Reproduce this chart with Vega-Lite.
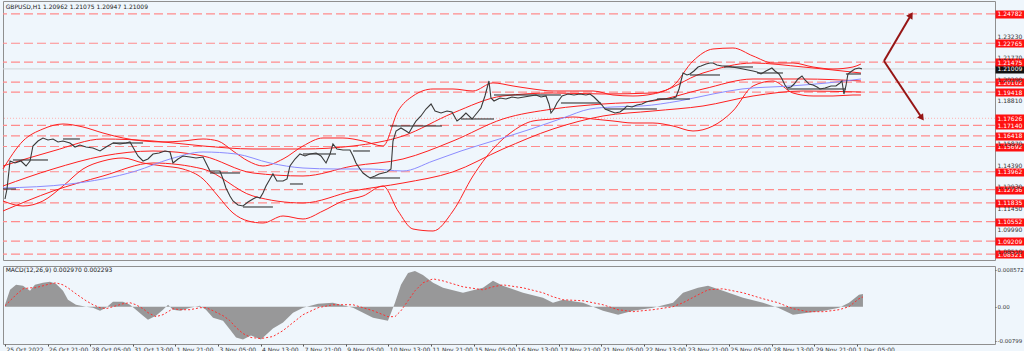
{
"$schema": "https://vega.github.io/schema/vega-lite/v6.json",
"background": "#eff6fc",
"padding": 0,
"spacing": 4,
"config": {"view": {"stroke": "#8f8f8f", "strokeWidth": 1}, "font": "DejaVu Sans", "axis": {"labelFont": "DejaVu Sans", "labelFontSize": 6, "labelColor": "#333333", "domain": false, "grid": false}},
"datasets": {
"price": [{"bar":0,"close":1.12097},{"bar":1.5,"close":1.12782},{"bar":3.8,"close":1.147},{"bar":7.5,"close":1.14563},{"bar":12.0,"close":1.147},{"bar":15.8,"close":1.14358},{"bar":18.8,"close":1.147},{"bar":21.0,"close":1.15728},{"bar":24.8,"close":1.1607},{"bar":28.5,"close":1.16276},{"bar":32.3,"close":1.16139},{"bar":36.1,"close":1.16207},{"bar":39.8,"close":1.16002},{"bar":43.6,"close":1.1607},{"bar":48.8,"close":1.15933},{"bar":52.6,"close":1.15659},{"bar":56.3,"close":1.15796},{"bar":60.9,"close":1.15659},{"bar":66.1,"close":1.1559},{"bar":71.4,"close":1.15385},{"bar":75.9,"close":1.15659},{"bar":81.1,"close":1.15933},{"bar":86.4,"close":1.15865},{"bar":90.9,"close":1.15933},{"bar":93.9,"close":1.16002},{"bar":96.9,"close":1.15522},{"bar":99.9,"close":1.15043},{"bar":103.7,"close":1.147},{"bar":107.4,"close":1.14837},{"bar":111.2,"close":1.1518},{"bar":115.7,"close":1.15248},{"bar":120.2,"close":1.15385},{"bar":124.0,"close":1.15317},{"bar":126.2,"close":1.14563},{"bar":130.0,"close":1.14837},{"bar":133.7,"close":1.15043},{"bar":139.0,"close":1.14974},{"bar":143.5,"close":1.14906},{"bar":148.8,"close":1.14974},{"bar":151.0,"close":1.14563},{"bar":154.0,"close":1.14015},{"bar":157.8,"close":1.14015},{"bar":161.5,"close":1.14015},{"bar":163.8,"close":1.13467},{"bar":166.0,"close":1.12851},{"bar":169.0,"close":1.12303},{"bar":171.3,"close":1.1196},{"bar":175.1,"close":1.11686},{"bar":178.8,"close":1.11618},{"bar":182.6,"close":1.11892},{"bar":186.3,"close":1.12097},{"bar":189.3,"close":1.12234},{"bar":191.6,"close":1.12166},{"bar":193.8,"close":1.12508},{"bar":196.1,"close":1.12988},{"bar":199.1,"close":1.13467},{"bar":201.3,"close":1.13811},{"bar":204.3,"close":1.1333},{"bar":208.9,"close":1.1333},{"bar":211.9,"close":1.13467},{"bar":214.1,"close":1.14358},{"bar":217.9,"close":1.14837},{"bar":221.6,"close":1.1518},{"bar":225.4,"close":1.15043},{"bar":229.1,"close":1.1518},{"bar":233.7,"close":1.15248},{"bar":237.4,"close":1.15043},{"bar":241.2,"close":1.14563},{"bar":244.2,"close":1.1518},{"bar":246.4,"close":1.15865},{"bar":249.4,"close":1.15522},{"bar":253.9,"close":1.15454},{"bar":259.2,"close":1.15454},{"bar":261.5,"close":1.15043},{"bar":263.7,"close":1.14563},{"bar":266.7,"close":1.14152},{"bar":269.0,"close":1.13878},{"bar":272.0,"close":1.13673},{"bar":274.2,"close":1.13536},{"bar":278.0,"close":1.13673},{"bar":281.0,"close":1.13811},{"bar":284.0,"close":1.13878},{"bar":287.0,"close":1.13947},{"bar":290.0,"close":1.14152},{"bar":291.5,"close":1.1607},{"bar":293.8,"close":1.16755},{"bar":297.5,"close":1.1696},{"bar":301.3,"close":1.16755},{"bar":303.5,"close":1.16618},{"bar":306.5,"close":1.17098},{"bar":308.8,"close":1.1744},{"bar":312.5,"close":1.17783},{"bar":316.3,"close":1.18262},{"bar":320.1,"close":1.18605},{"bar":323.1,"close":1.18125},{"bar":327.6,"close":1.17988},{"bar":332.1,"close":1.18125},{"bar":335.8,"close":1.18057},{"bar":339.6,"close":1.1744},{"bar":342.6,"close":1.17646},{"bar":346.3,"close":1.17988},{"bar":350.9,"close":1.17577},{"bar":354.6,"close":1.17988},{"bar":357.6,"close":1.18331},{"bar":360.6,"close":1.19153},{"bar":363.6,"close":1.2018},{"bar":365.1,"close":1.19016},{"bar":367.4,"close":1.1881},{"bar":371.9,"close":1.19016},{"bar":376.4,"close":1.18947},{"bar":380.9,"close":1.19084},{"bar":385.4,"close":1.19016},{"bar":389.9,"close":1.19084},{"bar":394.4,"close":1.19153},{"bar":398.9,"close":1.19221},{"bar":402.7,"close":1.19084},{"bar":406.5,"close":1.19153},{"bar":408.7,"close":1.18605},{"bar":410.2,"close":1.17988},{"bar":412.5,"close":1.18262},{"bar":414.7,"close":1.18673},{"bar":418.5,"close":1.19153},{"bar":423.0,"close":1.1929},{"bar":427.5,"close":1.19221},{"bar":432.0,"close":1.1929},{"bar":436.5,"close":1.19221},{"bar":439.5,"close":1.1929},{"bar":442.5,"close":1.19084},{"bar":445.5,"close":1.1881},{"bar":448.5,"close":1.18536},{"bar":450.8,"close":1.18262},{"bar":454.5,"close":1.18125},{"bar":458.3,"close":1.17988},{"bar":462.0,"close":1.18057},{"bar":465.1,"close":1.18262},{"bar":467.3,"close":1.18468},{"bar":471.1,"close":1.18399},{"bar":474.8,"close":1.18536},{"bar":478.6,"close":1.18605},{"bar":481.6,"close":1.18742},{"bar":484.6,"close":1.1881},{"bar":488.3,"close":1.18879},{"bar":492.1,"close":1.18947},{"bar":495.1,"close":1.18947},{"bar":498.9,"close":1.18947},{"bar":501.9,"close":1.19016},{"bar":504.1,"close":1.19084},{"bar":506.4,"close":1.19632},{"bar":507.9,"close":1.2018},{"bar":509.4,"close":1.20728},{"bar":512.4,"close":1.20591},{"bar":514.6,"close":1.2066},{"bar":517.6,"close":1.20865},{"bar":520.7,"close":1.21139},{"bar":522.9,"close":1.21208},{"bar":526.7,"close":1.21345},{"bar":529.7,"close":1.21413},{"bar":531.9,"close":1.21413},{"bar":534.9,"close":1.21276},{"bar":538.7,"close":1.21208},{"bar":542.4,"close":1.21208},{"bar":546.2,"close":1.21139},{"bar":550.7,"close":1.21071},{"bar":554.5,"close":1.21002},{"bar":558.2,"close":1.20934},{"bar":562.0,"close":1.20865},{"bar":565.0,"close":1.20796},{"bar":568.0,"close":1.2066},{"bar":571.7,"close":1.20865},{"bar":576.2,"close":1.21071},{"bar":578.5,"close":1.20865},{"bar":581.5,"close":1.2066},{"bar":583.8,"close":1.20317},{"bar":586.0,"close":1.19906},{"bar":587.5,"close":1.19701},{"bar":590.5,"close":1.19769},{"bar":592.9,"close":1.19974},{"bar":595.8,"close":1.20317},{"bar":598.8,"close":1.20523},{"bar":601.0,"close":1.20249},{"bar":604.1,"close":1.19974},{"bar":607.1,"close":1.19906},{"bar":610.1,"close":1.19769},{"bar":612.3,"close":1.19632},{"bar":616.1,"close":1.19701},{"bar":620.6,"close":1.19837},{"bar":624.3,"close":1.19837},{"bar":627.3,"close":1.20043},{"bar":628.8,"close":1.2018},{"bar":630.3,"close":1.19289},{"bar":631.8,"close":1.19837},{"bar":633.3,"close":1.2066},{"bar":636.3,"close":1.20865},{"bar":638.5,"close":1.21002},{"bar":641.6,"close":1.21071},{"bar":643.8,"close":1.21009}],
"fastbb": [{"bar":-1.5,"upper":1.14152,"lower":1.1196},{"bar":13.5,"upper":1.1607,"lower":1.11618},{"bar":28.5,"upper":1.16892,"lower":1.1196},{"bar":43.6,"upper":1.17235,"lower":1.12988},{"bar":58.6,"upper":1.1703,"lower":1.14152},{"bar":73.6,"upper":1.16618,"lower":1.147},{"bar":88.7,"upper":1.16276,"lower":1.14906},{"bar":103.7,"upper":1.1607,"lower":1.14563},{"bar":118.7,"upper":1.16002,"lower":1.14358},{"bar":133.7,"upper":1.1607,"lower":1.14152},{"bar":148.8,"upper":1.16207,"lower":1.13467},{"bar":160.0,"upper":1.1607,"lower":1.12303},{"bar":171.3,"upper":1.15385,"lower":1.11138},{"bar":182.6,"upper":1.147,"lower":1.1059},{"bar":193.8,"upper":1.14358,"lower":1.10453},{"bar":208.9,"upper":1.14837,"lower":1.10933},{"bar":223.9,"upper":1.15728,"lower":1.10727},{"bar":238.9,"upper":1.16276,"lower":1.11275},{"bar":253.9,"upper":1.16276,"lower":1.1196},{"bar":269.0,"upper":1.1607,"lower":1.12303},{"bar":284.0,"upper":1.15728,"lower":1.12988},{"bar":295.3,"upper":1.18125,"lower":1.11275},{"bar":306.5,"upper":1.19153,"lower":1.10042},{"bar":321.6,"upper":1.19632,"lower":1.09905},{"bar":336.6,"upper":1.19632,"lower":1.11275},{"bar":351.6,"upper":1.19495,"lower":1.13673},{"bar":366.6,"upper":1.2005,"lower":1.15522},{"bar":381.7,"upper":1.19838,"lower":1.16755},{"bar":396.7,"upper":1.19632,"lower":1.1744},{"bar":411.7,"upper":1.19495,"lower":1.17577},{"bar":426.7,"upper":1.19495,"lower":1.17714},{"bar":441.8,"upper":1.19495,"lower":1.17577},{"bar":456.8,"upper":1.19221,"lower":1.1744},{"bar":471.8,"upper":1.19153,"lower":1.17303},{"bar":486.8,"upper":1.1929,"lower":1.17303},{"bar":501.9,"upper":1.19838,"lower":1.17098},{"bar":516.9,"upper":1.2155,"lower":1.16755},{"bar":531.9,"upper":1.22372,"lower":1.17098},{"bar":546.9,"upper":1.2244,"lower":1.18125},{"bar":562.0,"upper":1.21893,"lower":1.19838},{"bar":577.0,"upper":1.21413,"lower":1.2018},{"bar":592.0,"upper":1.21413,"lower":1.19358},{"bar":607.1,"upper":1.21139,"lower":1.19153},{"bar":622.1,"upper":1.21002,"lower":1.19153},{"bar":637.1,"upper":1.21139,"lower":1.19221},{"bar":643.1,"upper":1.21345,"lower":1.19221}],
"slowbb": [{"bar":-1.5,"upper":1.14358,"middle":1.12988,"lower":1.11275},{"bar":36.1,"upper":1.15385,"middle":1.14152,"lower":1.12645},{"bar":73.6,"upper":1.16207,"middle":1.15043,"lower":1.13673},{"bar":111.2,"upper":1.1607,"middle":1.15385,"lower":1.14563},{"bar":148.8,"upper":1.15728,"middle":1.15043,"lower":1.14152},{"bar":186.3,"upper":1.15522,"middle":1.13878,"lower":1.12303},{"bar":223.9,"upper":1.15522,"middle":1.13673,"lower":1.11823},{"bar":261.5,"upper":1.15728,"middle":1.14358,"lower":1.12645},{"bar":299.0,"upper":1.16413,"middle":1.14837,"lower":1.13193},{"bar":336.6,"upper":1.17988,"middle":1.1607,"lower":1.13955},{"bar":374.1,"upper":1.19153,"middle":1.17577,"lower":1.15522},{"bar":411.7,"upper":1.19358,"middle":1.18262,"lower":1.16892},{"bar":449.3,"upper":1.1929,"middle":1.18605,"lower":1.17783},{"bar":486.8,"upper":1.19358,"middle":1.1881,"lower":1.18125},{"bar":524.4,"upper":1.20728,"middle":1.1963,"lower":1.18468},{"bar":562.0,"upper":1.21413,"middle":1.20317,"lower":1.19153},{"bar":599.6,"upper":1.21139,"middle":1.20317,"lower":1.19495},{"bar":643.1,"upper":1.20728,"middle":1.2018,"lower":1.19426}],
"ma": [{"bar":-1.5,"ma":1.12851},{"bar":48.8,"ma":1.13125},{"bar":98.4,"ma":1.14015},{"bar":124.0,"ma":1.14837},{"bar":148.8,"ma":1.15317},{"bar":173.6,"ma":1.1518},{"bar":199.1,"ma":1.14563},{"bar":223.9,"ma":1.1422},{"bar":248.7,"ma":1.14152},{"bar":274.2,"ma":1.14152},{"bar":299.0,"ma":1.14015},{"bar":321.6,"ma":1.147},{"bar":342.6,"ma":1.15385},{"bar":366.6,"ma":1.1607},{"bar":395.2,"ma":1.16892},{"bar":419.2,"ma":1.17645},{"bar":439.5,"ma":1.18262},{"bar":456.8,"ma":1.18399},{"bar":478.6,"ma":1.18468},{"bar":506.4,"ma":1.1881},{"bar":531.9,"ma":1.1929},{"bar":553.7,"ma":1.19632},{"bar":589.8,"ma":1.19837},{"bar":617.6,"ma":1.20043},{"bar":643.1,"ma":1.20317}],
"pivots": [{"start":-1.5,"end":8.3,"price":1.12782},{"start":6.0,"end":32.3,"price":1.14769},{"start":43.6,"end":56.3,"price":1.16207},{"start":81.1,"end":103.7,"price":1.15933},{"start":154.0,"end":176.6,"price":1.13878},{"start":178.8,"end":201.3,"price":1.11549},{"start":214.1,"end":223.9,"price":1.13125},{"start":223.9,"end":248.7,"price":1.1518},{"start":261.5,"end":274.2,"price":1.15385},{"start":274.2,"end":296.8,"price":1.13536},{"start":289.3,"end":328.3,"price":1.17098},{"start":342.6,"end":367.4,"price":1.17577},{"start":367.4,"end":417.7,"price":1.19221},{"start":417.7,"end":447.8,"price":1.18673},{"start":450.8,"end":489.8,"price":1.18262},{"start":489.8,"end":514.6,"price":1.18947},{"start":514.6,"end":537.2,"price":1.20591},{"start":540.2,"end":562.0,"price":1.21139},{"start":565.0,"end":584.5,"price":1.20728},{"start":587.5,"end":631.8,"price":1.19632},{"start":631.8,"end":643.1,"price":1.2066}],
"levels": [{"price":1.24782,"kind":"level"},{"price":1.22765,"kind":"level"},{"price":1.21475,"kind":"level"},{"price":1.20102,"kind":"level"},{"price":1.19418,"kind":"level"},{"price":1.17626,"kind":"minor"},{"price":1.1714,"kind":"level"},{"price":1.16418,"kind":"level"},{"price":1.15692,"kind":"level"},{"price":1.13962,"kind":"level"},{"price":1.12736,"kind":"level"},{"price":1.11835,"kind":"level"},{"price":1.10552,"kind":"level"},{"price":1.09209,"kind":"level"},{"price":1.08321,"kind":"level"},{"price":1.21009,"kind":"current"}],
"arrows": [{"x":660.4,"y":1.2155,"x2":680.7,"y2":1.24701,"dir":"up"},{"x":660.4,"y":1.2155,"x2":688.9,"y2":1.1765,"dir":"down"}],
"titles": [{"label":"GBPUSD,H1  1.20962 1.21075 1.20947 1.21009","panel":"price"},{"label":"MACD(12,26,9) 0.002970 0.002293","panel":"macd"}],
"macd": [{"bar":0,"hist":0.00046,"signal":0.00023},{"bar":3.8,"hist":0.00394,"signal":0.00139},{"bar":8.3,"hist":0.0051,"signal":0.00278},{"bar":13.5,"hist":0.00487,"signal":0.00418},{"bar":18.8,"hist":0.00371,"signal":0.00441},{"bar":22.5,"hist":0.0051,"signal":0.00441},{"bar":28.5,"hist":0.00557,"signal":0.00487},{"bar":33.8,"hist":0.0058,"signal":0.00534},{"bar":38.3,"hist":0.00534,"signal":0.00557},{"bar":43.6,"hist":0.00371,"signal":0.0051},{"bar":47.3,"hist":0.00162,"signal":0.00441},{"bar":53.3,"hist":0.00046,"signal":0.00302},{"bar":60.9,"hist":0,"signal":0.00139},{"bar":66.1,"hist":-0.00023,"signal":0.00046},{"bar":71.4,"hist":-0.00093,"signal":-0.00023},{"bar":75.9,"hist":-0.00023,"signal":-0.00046},{"bar":81.1,"hist":0.00116,"signal":0},{"bar":88.7,"hist":0.00116,"signal":0.0007},{"bar":93.9,"hist":0.00046,"signal":0.00093},{"bar":98.4,"hist":-0.0007,"signal":0.00046},{"bar":103.7,"hist":-0.00209,"signal":-0.00046},{"bar":107.4,"hist":-0.00302,"signal":-0.00139},{"bar":113.4,"hist":-0.00209,"signal":-0.00232},{"bar":118.7,"hist":-0.0007,"signal":-0.00186},{"bar":122.5,"hist":0.00046,"signal":-0.00116},{"bar":126.2,"hist":-0.0007,"signal":-0.00046},{"bar":131.5,"hist":-0.00093,"signal":-0.0007},{"bar":139.0,"hist":-0.00023,"signal":-0.0007},{"bar":146.5,"hist":0.00023,"signal":-0.00023},{"bar":151.0,"hist":-0.0007,"signal":-0.00023},{"bar":156.3,"hist":-0.00255,"signal":-0.00093},{"bar":163.8,"hist":-0.00325,"signal":-0.00209},{"bar":169.0,"hist":-0.00534,"signal":-0.00325},{"bar":173.6,"hist":-0.00719,"signal":-0.00487},{"bar":178.8,"hist":-0.00766,"signal":-0.00626},{"bar":184.8,"hist":-0.00673,"signal":-0.00719},{"bar":192.3,"hist":-0.00766,"signal":-0.00742},{"bar":201.3,"hist":-0.0051,"signal":-0.00696},{"bar":208.9,"hist":-0.00371,"signal":-0.00557},{"bar":216.4,"hist":-0.00139,"signal":-0.00371},{"bar":223.9,"hist":-0.00023,"signal":-0.00186},{"bar":235.2,"hist":0.0007,"signal":-0.00023},{"bar":246.4,"hist":0.00093,"signal":0.00046},{"bar":261.5,"hist":-0.00023,"signal":0.00046},{"bar":276.5,"hist":-0.00255,"signal":-0.00093},{"bar":287.7,"hist":-0.00325,"signal":-0.00232},{"bar":293.0,"hist":0.00093,"signal":-0.00232},{"bar":297.5,"hist":0.0051,"signal":-0.00093},{"bar":302.8,"hist":0.00789,"signal":0.00139},{"bar":308.0,"hist":0.00835,"signal":0.00371},{"bar":314.0,"hist":0.00742,"signal":0.00557},{"bar":321.6,"hist":0.00557,"signal":0.0065},{"bar":329.1,"hist":0.00441,"signal":0.00603},{"bar":344.1,"hist":0.00325,"signal":0.00464},{"bar":359.1,"hist":0.00441,"signal":0.00394},{"bar":366.6,"hist":0.00603,"signal":0.00464},{"bar":374.1,"hist":0.00487,"signal":0.0051},{"bar":389.2,"hist":0.00325,"signal":0.00441},{"bar":404.2,"hist":0.00209,"signal":0.00325},{"bar":411.7,"hist":0.00093,"signal":0.00232},{"bar":419.2,"hist":0.00162,"signal":0.00162},{"bar":434.3,"hist":0.00093,"signal":0.00139},{"bar":449.3,"hist":-0.00093,"signal":0.00046},{"bar":460.6,"hist":-0.00186,"signal":-0.0007},{"bar":471.8,"hist":-0.00093,"signal":-0.00116},{"bar":486.8,"hist":-0.00023,"signal":-0.0007},{"bar":501.9,"hist":0.00093,"signal":0},{"bar":509.4,"hist":0.00325,"signal":0.00093},{"bar":520.7,"hist":0.00441,"signal":0.00278},{"bar":528.2,"hist":0.00487,"signal":0.00394},{"bar":539.4,"hist":0.00371,"signal":0.00418},{"bar":554.5,"hist":0.00209,"signal":0.00325},{"bar":569.5,"hist":0.00093,"signal":0.00186},{"bar":580.8,"hist":-0.00023,"signal":0.00093},{"bar":592.0,"hist":-0.00186,"signal":-0.00046},{"bar":603.3,"hist":-0.00139,"signal":-0.00116},{"bar":615.3,"hist":-0.00093,"signal":-0.00116},{"bar":626.6,"hist":-0.00023,"signal":-0.0007},{"bar":634.1,"hist":0.00093,"signal":0},{"bar":641.6,"hist":0.00278,"signal":0.00186},{"bar":644.6,"hist":0.00297,"signal":0.002293}]
},
"vconcat": [
{
"width": 992, "height": 259,
"layer": [
{"data": {"name": "levels"}, "transform": [{"filter": "datum.kind == 'level'"}],
 "mark": {"type": "rule", "color": "#ff8c8c", "strokeDash": [9, 4], "strokeWidth": 1.2},
 "encoding": {"y": {"field": "price", "type": "quantitative", "title": null,
   "scale": {"domain": [1.07918, 1.2566], "nice": false, "zero": false},
   "axis": {"orient": "right", "tickCount": 200,
     "values": [1.08321, 1.0851, 1.09209, 1.0999, 1.10552, 1.1145, 1.11835, 1.12736, 1.1293, 1.13962, 1.1439, 1.15692, 1.1587, 1.16418, 1.1714, 1.17626, 1.1881, 1.19418, 1.20102, 1.2029, 1.21009, 1.21475, 1.2177, 1.22765, 1.2323, 1.24782],
     "format": ".5f", "labelOverlap": false, "labelFlush": false, "labelBound": false,
     "tickSize": 29, "labelPadding": -27, "labelFontSize": 6,
     "tickWidth": {"condition": {"test": "indexof([1.24782,1.22765,1.21475,1.20102,1.19418,1.17626,1.1714,1.16418,1.15692,1.13962,1.12736,1.11835,1.10552,1.09209,1.08321,1.21009], datum.value) >= 0", "value": 8}, "value": 0},
     "tickColor": {"condition": [{"test": "datum.value == 1.21009", "value": "#111111"}, {"test": "indexof([1.24782,1.22765,1.21475,1.20102,1.19418,1.17626,1.1714,1.16418,1.15692,1.13962,1.12736,1.11835,1.10552,1.09209,1.08321], datum.value) >= 0", "value": "#ff1010"}], "value": "transparent"},
     "labelColor": {"condition": {"test": "indexof([1.24782,1.22765,1.21475,1.20102,1.19418,1.17626,1.1714,1.16418,1.15692,1.13962,1.12736,1.11835,1.10552,1.09209,1.08321,1.21009], datum.value) >= 0", "value": "#ffffff"}, "value": "#333333"}
   }}}},
{"data": {"name": "levels"}, "transform": [{"filter": "datum.kind == 'minor'"}],
 "mark": {"type": "rule", "color": "#ffb0b0", "strokeDash": [1, 2], "strokeWidth": 1},
 "encoding": {"y": {"field": "price", "type": "quantitative", "title": null}}},
{"data": {"name": "levels"}, "transform": [{"filter": "datum.kind == 'current'"}],
 "mark": {"type": "rule", "color": "#d0d4d8", "strokeWidth": 1},
 "encoding": {"y": {"field": "price", "type": "quantitative", "title": null}}},
{"data": {"name": "slowbb"}, "mark": {"type": "line", "color": "#ff2020", "strokeWidth": 1, "interpolate": "monotone"},
 "encoding": {"x": {"field": "bar", "type": "quantitative", "axis": null, "scale": {"domain": [-1.5, 743.8], "nice": false, "zero": false}}, "y": {"field": "upper", "type": "quantitative", "title": null}}},
{"data": {"name": "slowbb"}, "mark": {"type": "line", "color": "#ff2020", "strokeWidth": 1, "interpolate": "monotone"},
 "encoding": {"x": {"field": "bar", "type": "quantitative", "axis": null}, "y": {"field": "middle", "type": "quantitative", "title": null}}},
{"data": {"name": "slowbb"}, "mark": {"type": "line", "color": "#ff2020", "strokeWidth": 1, "interpolate": "monotone"},
 "encoding": {"x": {"field": "bar", "type": "quantitative", "axis": null}, "y": {"field": "lower", "type": "quantitative", "title": null}}},
{"data": {"name": "fastbb"}, "mark": {"type": "line", "color": "#ff2020", "strokeWidth": 1, "interpolate": "monotone"},
 "encoding": {"x": {"field": "bar", "type": "quantitative", "axis": null}, "y": {"field": "upper", "type": "quantitative", "title": null}}},
{"data": {"name": "fastbb"}, "mark": {"type": "line", "color": "#ff2020", "strokeWidth": 1, "interpolate": "monotone"},
 "encoding": {"x": {"field": "bar", "type": "quantitative", "axis": null}, "y": {"field": "lower", "type": "quantitative", "title": null}}},
{"data": {"name": "ma"}, "mark": {"type": "line", "color": "#8c8cff", "strokeWidth": 1, "interpolate": "monotone"},
 "encoding": {"x": {"field": "bar", "type": "quantitative", "axis": null}, "y": {"field": "ma", "type": "quantitative", "title": null}}},
{"data": {"name": "pivots"}, "mark": {"type": "rule", "color": "#222222", "strokeWidth": 1},
 "encoding": {"x": {"field": "start", "type": "quantitative", "axis": null}, "x2": {"field": "end"}, "y": {"field": "price", "type": "quantitative", "title": null}}},
{"data": {"name": "price"}, "mark": {"type": "line", "color": "#3a3a3a", "strokeWidth": 1.1},
 "encoding": {"x": {"field": "bar", "type": "quantitative", "axis": null}, "y": {"field": "close", "type": "quantitative", "title": null}}},
{"data": {"name": "arrows"}, "mark": {"type": "rule", "color": "#961515", "strokeWidth": 2},
 "encoding": {"x": {"field": "x", "type": "quantitative", "axis": null}, "y": {"field": "y", "type": "quantitative", "title": null}, "x2": {"field": "x2"}, "y2": {"field": "y2"}}},
{"data": {"name": "arrows"}, "transform": [{"filter": "datum.dir == 'up'"}], "mark": {"type": "point", "shape": "triangle-up", "angle": 32, "filled": true, "size": 55, "color": "#961515", "opacity": 1},
 "encoding": {"x": {"field": "x2", "type": "quantitative", "axis": null}, "y": {"field": "y2", "type": "quantitative", "title": null}}},
{"data": {"name": "arrows"}, "transform": [{"filter": "datum.dir == 'down'"}], "mark": {"type": "point", "shape": "triangle-down", "angle": -36, "filled": true, "size": 55, "color": "#961515", "opacity": 1},
 "encoding": {"x": {"field": "x2", "type": "quantitative", "axis": null}, "y": {"field": "y2", "type": "quantitative", "title": null}}},
{"data": {"name": "titles"}, "transform": [{"filter": "datum.panel == 'price'"}], "mark": {"type": "text", "align": "left", "baseline": "middle", "fontSize": 6, "color": "#222222", "font": "DejaVu Sans"},
 "encoding": {"x": {"datum": 0.5, "type": "quantitative", "axis": null}, "y": {"datum": 1.2525, "type": "quantitative", "title": null}, "text": {"field": "label"}}}
]
},
{
"width": 992, "height": 78,
"layer": [
{"data": {"name": "macd"}, "mark": {"type": "area", "color": "#8e8e8e", "opacity": 0.9},
 "encoding": {
   "x": {"field": "bar", "type": "quantitative", "title": null, "scale": {"domain": [-1.5, 743.8], "nice": false, "zero": false},
     "axis": {"orient": "bottom", "tickCount": 100, "values": [0,32,64,96,128,160,192,224,256,288,320,352,384,416,448,480,512,544,576,608,640],
       "labelExpr": "['25 Oct 2022','26 Oct 21:00','28 Oct 05:00','31 Oct 13:00','1 Nov 21:00','3 Nov 05:00','4 Nov 13:00','7 Nov 21:00','9 Nov 05:00','10 Nov 13:00','11 Nov 21:00','15 Nov 05:00','16 Nov 13:00','17 Nov 21:00','21 Nov 05:00','22 Nov 13:00','23 Nov 21:00','25 Nov 05:00','28 Nov 13:00','29 Nov 21:00','1 Dec 05:00'][round(datum.value/32)]",
       "labelAlign": "left", "labelOffset": 1, "labelFontSize": 6, "tickSize": 2, "tickColor": "#555555", "labelPadding": 0, "labelFlush": false, "labelOverlap": false}},
   "y": {"field": "hist", "type": "quantitative", "title": null, "scale": {"domain": [-0.0087, 0.0095], "nice": false},
     "axis": {"orient": "right", "tickCount": 20, "values": [-0.00799, 0, 0.008572], "labelExpr": "datum.value == 0 ? '0.00' : (datum.value > 0 ? '0.008572' : '-0.00799')", "tickSize": 1, "tickColor": "#555555", "labelPadding": 1, "labelFontSize": 5.5, "labelOverlap": false, "labelFlush": false}},
   "y2": {"datum": 0}}},
{"data": {"name": "macd"}, "mark": {"type": "line", "color": "#ff3030", "strokeDash": [2, 2], "strokeWidth": 1},
 "encoding": {"x": {"field": "bar", "type": "quantitative"}, "y": {"field": "signal", "type": "quantitative", "title": null}}},
{"data": {"name": "titles"}, "transform": [{"filter": "datum.panel == 'macd'"}], "mark": {"type": "text", "align": "left", "baseline": "middle", "fontSize": 6, "color": "#222222", "font": "DejaVu Sans"},
 "encoding": {"x": {"datum": 0.5, "type": "quantitative"}, "y": {"datum": 0.0085, "type": "quantitative"}, "text": {"field": "label"}}}
]
}
]
}
